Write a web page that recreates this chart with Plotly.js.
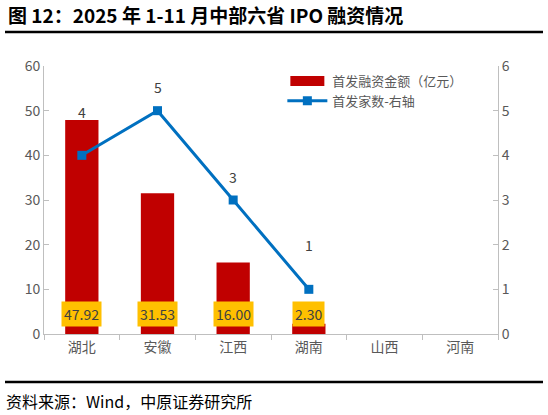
<!DOCTYPE html>
<html>
<head>
<meta charset="utf-8">
<script src="https://cdn.plot.ly/plotly-3.0.1.min.js"></script>
<style>
html,body{margin:0;padding:0;background:#fff;}
#chart{width:548px;height:415px;}
</style>
</head>
<body>
<div id="chart"></div>
<script>
const categories = ["湖北", "安徽", "江西", "湖南", "山西", "河南"];
const amountValues = [47.92, 31.53, 16.00, 2.30, null, null];
const amountLabels = ["47.92", "31.53", "16.00", "2.30"];
const countCategories = ["湖北", "安徽", "江西", "湖南"];
const countValues = [4, 5, 3, 1];
const countLabelShift = [43, 24, 23, 44];
const leftTicks = [0, 10, 20, 30, 40, 50, 60];
const rightTicks = [0, 1, 2, 3, 4, 5, 6];

const font = "'Microsoft YaHei', 'Noto Sans CJK SC', 'Noto Sans', sans-serif";
const grey = "#595959";

const traces = [
  {
    type: "bar",
    name: "首发融资金额（亿元）",
    x: categories,
    y: amountValues,
    marker: {color: "#C00000"},
    width: 0.44,
    hoverinfo: "x+y"
  },
  {
    type: "scatter",
    mode: "lines+markers",
    name: "首发家数-右轴",
    x: countCategories,
    y: countValues,
    yaxis: "y2",
    line: {color: "#0070C0", width: 3},
    marker: {color: "#0070C0", symbol: "square", size: 9}
  }
];

const annotations = [];
amountLabels.forEach((t, i) => {
  annotations.push({
    x: categories[i], y: 0, xref: "x", yref: "y",
    yanchor: "bottom", yshift: 7,
    text: t, showarrow: false,
    bgcolor: "#FFC000", borderpad: 2,
    font: {family: font, size: 14, color: "#404040"}
  });
});
countValues.forEach((v, i) => {
  annotations.push({
    x: countCategories[i], y: v, xref: "x", yref: "y2",
    yanchor: "middle", yshift: countLabelShift[i],
    text: String(v), showarrow: false,
    font: {family: font, size: 14, color: "#404040"}
  });
});
annotations.push({
  xref: "paper", yref: "paper", x: -38/454, y: 1 + (66-14)/268,
  xanchor: "left", yanchor: "middle",
  text: "<b>图 12：2025 年 1-11 月中部六省 IPO 融资情况</b>",
  showarrow: false,
  font: {family: "'Noto Sans CJK SC', sans-serif", size: 19, color: "#000"}
});
annotations.push({
  xref: "paper", yref: "paper", x: -40/454, y: -(401-334)/268,
  xanchor: "left", yanchor: "middle",
  text: "资料来源：Wind，中原证券研究所",
  showarrow: false,
  font: {family: "'Noto Sans CJK SC', sans-serif", size: 16, color: "#000"}
});

const layout = {
  width: 548, height: 415,
  margin: {l: 44, r: 50, t: 66, b: 81},
  paper_bgcolor: "#fff", plot_bgcolor: "#fff",
  showlegend: true,
  legend: {
    x: 0.525, y: 1.0, xanchor: "left", yanchor: "top",
    bgcolor: "rgba(0,0,0,0)",
    font: {family: font, size: 13, color: grey},
    itemwidth: 40, tracegroupgap: 2
  },
  bargap: 0.56,
  xaxis: {
    type: "category",
    categoryorder: "array", categoryarray: categories,
    showline: true, linecolor: "#BFBFBF", linewidth: 1,
    ticks: "outside", tickson: "boundaries", ticklen: 5, tickcolor: "#BFBFBF",
    tickfont: {family: font, size: 14, color: grey},
    showgrid: false, zeroline: false, fixedrange: true
  },
  yaxis: {
    range: [0, 60], tickvals: leftTicks,
    showline: true, linecolor: "#BFBFBF", linewidth: 1,
    ticks: "inside", ticklen: 5, tickcolor: "#BFBFBF",
    tickfont: {family: font, size: 14, color: grey},
    showgrid: false, zeroline: false
  },
  yaxis2: {
    range: [0, 6], tickvals: rightTicks,
    overlaying: "y", side: "right",
    showline: true, linecolor: "#BFBFBF", linewidth: 1,
    ticks: "inside", ticklen: 5, tickcolor: "#BFBFBF",
    tickfont: {family: font, size: 14, color: grey},
    showgrid: false, zeroline: false
  },
  shapes: [
    {type: "line", xref: "paper", yref: "paper",
     x0: -39/454, x1: 499/454, y0: 1 + (66-32)/268, y1: 1 + (66-32)/268,
     line: {color: "#000", width: 2.5}},
    {type: "line", xref: "paper", yref: "paper",
     x0: -39/454, x1: 499/454, y0: -(382-334)/268, y1: -(382-334)/268,
     line: {color: "#000", width: 2.5}}
  ],
  annotations: annotations
};

const gd = document.getElementById("chart");
function widenSwatch() {
  // widen the bar legend swatch to match the reference's rectangle
  const items = gd.querySelectorAll(".legend .traces");
  if (!items.length) return;
  items[0].querySelectorAll(".legendpoints path").forEach(p => {
    p.setAttribute("d", "M17,5H-17V-5H17Z");
  });
}
Plotly.newPlot(gd, traces, layout, {displayModeBar: false}).then(() => {
  widenSwatch();
  gd.on("plotly_afterplot", widenSwatch);
  setTimeout(widenSwatch, 50);
});
</script>
</body>
</html>
